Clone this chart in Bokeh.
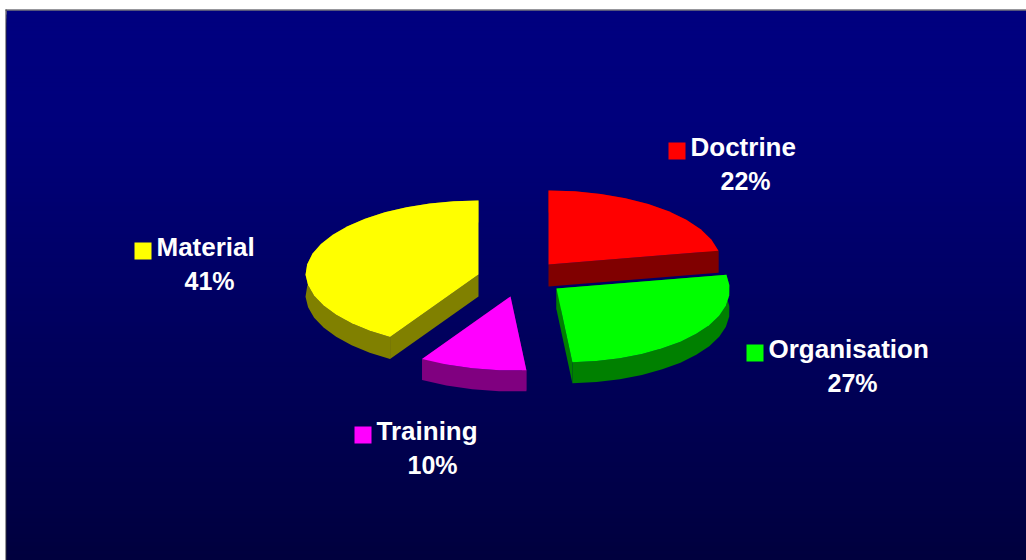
import numpy as np
from bokeh.core.properties import value
from bokeh.embed import file_html
from bokeh.plotting import figure
from bokeh.resources import INLINE

categories = ["Doctrine", "Organisation", "Training", "Material"]
shares = [22, 27, 10, 41]
top_colors = ["#ff0000", "#00ff00", "#ff00ff", "#ffff00"]
side_colors = ["#800000", "#008000", "#800080", "#808000"]
draw_order = [3, 0, 2, 1]

apex_x = [548, 556, 510, 478]
apex_y = [264, 288, 296, 274]
depths = [22, 21, 21, 22]
label_x = [690, 768, 376, 156]
label_y = [146, 348, 430, 246]
pct_x = [745, 852, 432, 209]
pct_y = [180, 382, 464, 280]

RX, RY, SHEAR = 173, 74, 0.068
W, H = 1026, 560
FONT = "Liberation Sans"

p = figure(width=W, height=H, x_range=(0, W), y_range=(H, 0),
           toolbar_location=None, output_backend="svg", min_border=0,
           x_axis_type=None, y_axis_type=None, outline_line_color=None,
           background_fill_color="white", border_fill_color="white")
p.grid.visible = False

# background gradient: each band runs to the bottom so no seams show
edges = np.arange(10, H, 4)
levels = np.interp(edges, [10, 120, 560], [128, 124, 62]).astype(int)
p.quad(left=6, right=W, top=edges, bottom=H,
       color=[f"#0000{v:02x}" for v in levels], line_color=None)
p.quad(left=[5], right=[W], top=[9], bottom=[10], color="#30303a", line_color=None)
p.quad(left=[5], right=[6], top=[9], bottom=[H], color="#30303a", line_color=None)

# pie
ends = np.cumsum(shares) / sum(shares) * 2 * np.pi
starts = np.r_[0, ends[:-1]]

def outline(i):
    t = np.linspace(starts[i], ends[i], max(int((ends[i] - starts[i]) / 0.14), 2) + 1)
    dx, dy = RX * np.sin(t), -RY * np.cos(t)
    dx = dx + SHEAR * np.maximum(dy, 0)
    return apex_x[i] + dx, apex_y[i] + dy

for i in draw_order:
    rx, ry = outline(i)
    ax, ay, d = apex_x[i], apex_y[i], depths[i]
    # rim wall as one polygon, then the two radial walls
    p.patch(np.r_[rx, rx[::-1]], np.r_[ry, (ry + d)[::-1]], fill_color=side_colors[i], line_color=None)
    p.patch([ax, rx[0], rx[0], ax], [ay, ry[0], ry[0] + d, ay + d], fill_color=side_colors[i], line_color=None)
    p.patch([ax, rx[-1], rx[-1], ax], [ay, ry[-1], ry[-1] + d, ay + d], fill_color=side_colors[i], line_color=None)
    p.patch(np.r_[ax, rx], np.r_[ay, ry], fill_color=top_colors[i], line_color=None)

# labels
swatch = 17
p.quad(left=[x - 22 for x in label_x], right=[x - 22 + swatch for x in label_x],
       top=[y - 4 for y in label_y], bottom=[y - 4 + swatch for y in label_y],
       color=top_colors, line_color=None)
p.text(x=label_x, y=label_y, text=categories, text_color="white", text_font=value(FONT),
       text_font_style="bold", text_font_size="26px", text_align="left", text_baseline="middle")
p.text(x=pct_x, y=pct_y, text=[f"{s}%" for s in shares], text_color="white", text_font=value(FONT),
       text_font_style="bold", text_font_size="25px", text_align="center", text_baseline="middle")

open("out.html", "w").write(file_html(p, INLINE))
